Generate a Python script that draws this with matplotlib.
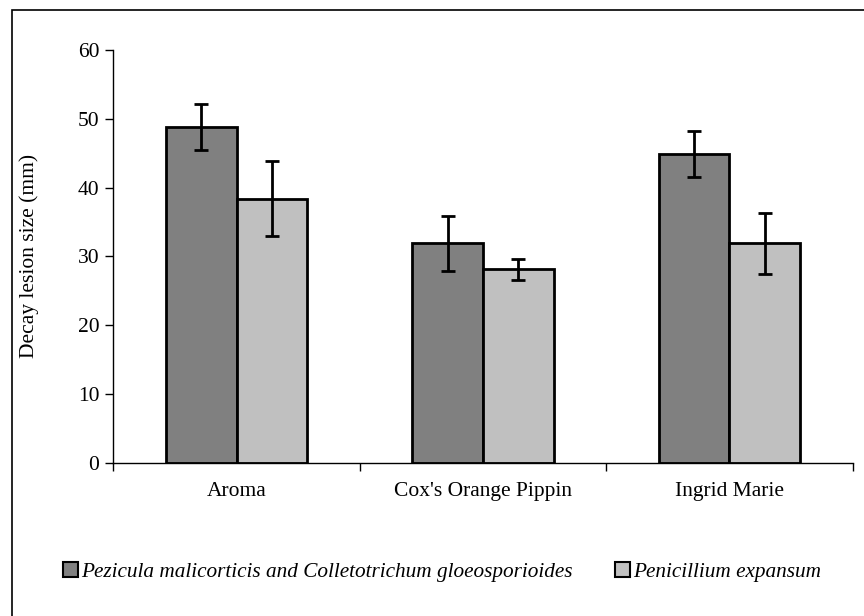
import matplotlib
matplotlib.use("Agg")
import matplotlib.pyplot as plt
from matplotlib.patches import Patch, Rectangle
import numpy as np

# Lesion size data (mm), mean and error per cultivar
cultivars = ["Aroma", "Cox's Orange Pippin", "Ingrid Marie"]
series_names = ["Pezicula malicorticis and Colletotrichum gloeosporioides",
                "Penicillium expansum"]
pezicula_mean = [48.8, 31.9, 44.9]
pezicula_err = [3.3, 4.0, 3.3]
penicillium_mean = [38.4, 28.1, 31.9]
penicillium_err = [5.5, 1.5, 4.4]
y_ticks = [0, 10, 20, 30, 40, 50, 60]

colors = ["#808080", "#c0c0c0"]

plt.rcParams["font.family"] = ["Liberation Serif", "DejaVu Serif"]
plt.rcParams["font.size"] = 15.5

fig = plt.figure(figsize=(8.64, 6.16), dpi=100)
ax = fig.add_axes([113.3 / 864, 1 - 462.7 / 616, 739.4 / 864, 412.7 / 616])

x = np.arange(len(cultivars))
w = 0.287
err_kw = dict(ecolor="black", elinewidth=2, capsize=5.3, capthick=2)
ax.bar(x - w / 2, pezicula_mean, w, yerr=pezicula_err, color=colors[0],
       edgecolor="black", linewidth=2, error_kw=err_kw, zorder=2)
ax.bar(x + w / 2, penicillium_mean, w, yerr=penicillium_err, color=colors[1],
       edgecolor="black", linewidth=2, error_kw=err_kw, zorder=2)

ax.set_xlim(-0.5, len(cultivars) - 0.5)
ax.set_ylim(0, 60)
ax.set_yticks(y_ticks)
ax.set_xticks(x)
ax.set_xticklabels(cultivars)
ax.set_xticks(np.arange(len(cultivars) + 1) - 0.5, minor=True)
ax.tick_params(axis="x", which="major", length=0, pad=14)
ax.tick_params(axis="x", which="minor", length=6, width=1, direction="out")
ax.tick_params(axis="y", length=6, width=1, direction="out", pad=4)
for s in ("top", "right"):
    ax.spines[s].set_visible(False)
for s in ("left", "bottom"):
    ax.spines[s].set_linewidth(1)
ax.set_ylabel("Decay lesion size (mm)")
ax.yaxis.set_label_coords((39 - 113.3) / 739.4, 0.5)

handles = [Patch(facecolor=c, edgecolor="black", linewidth=1.5) for c in colors]
fig.legend(handles, series_names, loc="center left",
           bbox_to_anchor=(52 / 864, 1 - 572 / 616), ncol=2, frameon=False,
           borderpad=0, handlelength=0.7, handleheight=0.7, handletextpad=0.15,
           columnspacing=2.0, prop={"style": "italic", "size": 15.3})

# Outer chart frame
fig.patches.append(Rectangle((12 / 864, -0.1), 1.2, 1 - 10 / 616 + 0.1,
                             transform=fig.transFigure, fill=False,
                             edgecolor="black", linewidth=1.2))

fig.savefig("out.png", dpi=100)
